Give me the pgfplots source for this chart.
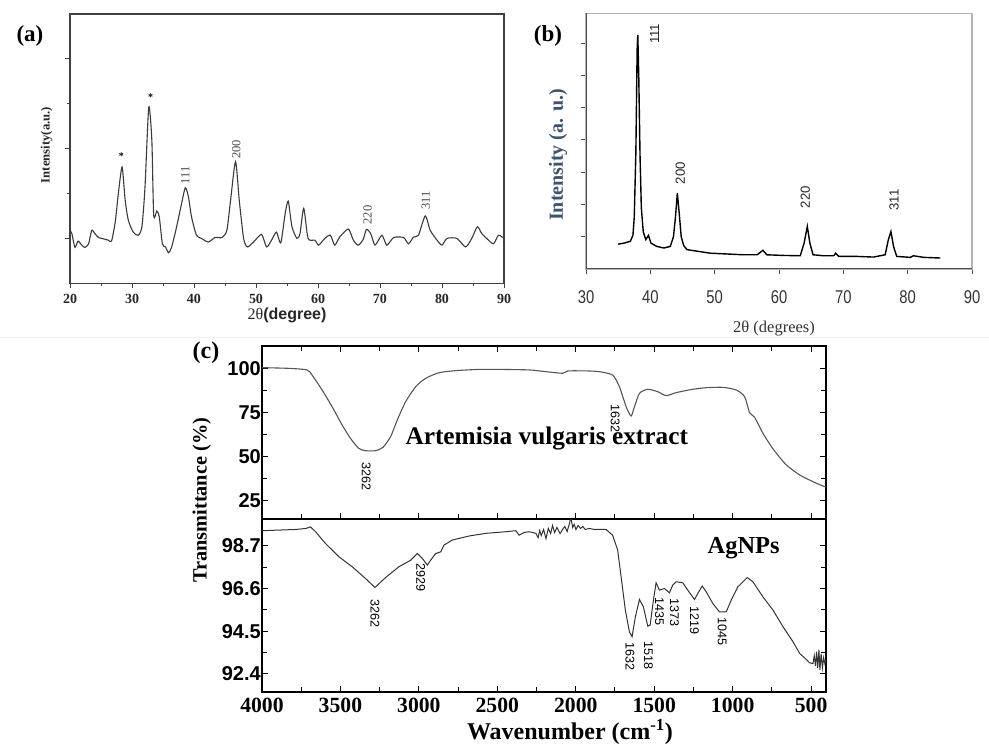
\documentclass[border=0pt]{standalone}
\usepackage{fontspec}
\setmainfont{Liberation Serif}
\newfontfamily\arial{Liberation Sans}
\usepackage{pgfplots}
\pgfplotsset{compat=1.18}
\definecolor{curveA}{HTML}{3A3A3A}
\definecolor{curveC}{HTML}{555555}
\definecolor{labB}{HTML}{3C5470}
\newcommand{\fs}[1]{\fontsize{#1}{#1}\selectfont}

\begin{document}
\begin{tikzpicture}
\path[use as bounding box] (0,0) rectangle (989pt,-744pt);
\draw[gray!12, line width=1pt] (0pt,-337.5pt) -- (989pt,-337.5pt);

% ---------------- (a) XRD ----------------
\begin{axis}[
    at={(70pt,-14pt)}, anchor=north west,
    scale only axis, width=434pt, height=269.3pt,
    xmin=20, xmax=90, ymin=0, ymax=6,
    xtick={20,30,...,90}, minor x tick num=1,
    ytick={1,3,5}, minor ytick={2,4}, yticklabel=\empty,
    tick pos=left, tick align=outside,
    major tick length=5pt, minor tick length=3pt,
    axis line style={draw=black!75, line width=1.2pt},
    tick style={draw=black!75, line width=1pt},
    /pgf/number format/assume math mode=true,
    xticklabel style={font=\bfseries\fs{14}, text=black!85, yshift=-2pt},
    xlabel={2θ{\arial\bfseries(degree)}},
    xlabel style={font=\fs{16}, text=black!85, at={(axis description cs:0.5,-0.121)}, anchor=center},
    ylabel={Intensity(a.u.)},
    ylabel style={font=\bfseries\fs{12.7}, text=black!85, at={(axis description cs:-0.0537,0.5135)}, anchor=center},
]
\addplot[curveA, line width=1.1pt, smooth, tension=0.4] coordinates {
(20,1.18)(20.3,1.11)(20.8,0.80)(21.3,0.94)(21.9,0.85)(22.4,0.80)(23.0,0.88)(23.5,1.18)
(24.0,1.11)(24.6,1.02)(25.4,0.99)(26.2,0.96)(26.7,0.94)(27.3,1.37)(27.8,2.0)(28.4,2.59)
(28.9,1.85)(29.4,1.41)(30.2,1.14)(31.0,1.07)(31.6,1.26)(32.1,2.15)(32.7,3.92)(33.2,3.19)
(33.5,1.52)(34.0,1.61)(34.4,1.48)(34.9,0.88)(35.4,0.81)(35.9,0.68)(36.4,0.81)(37.2,1.26)
(38.0,1.78)(38.6,2.13)(39.1,1.93)(39.6,1.48)(40.4,1.07)(41.2,1.0)(42.3,0.92)(43.4,1.02)
(44.5,1.02)(45.3,1.18)(45.9,1.85)(46.7,2.71)(47.3,1.85)(48.0,1.0)(48.6,0.81)(49.6,0.92)
(50.9,1.09)(51.7,0.81)(52.5,0.96)(53.3,1.14)(54.0,0.90)(54.7,1.55)(55.2,1.83)(55.8,1.26)
(56.6,1.0)(57.1,1.11)(57.7,1.67)(58.4,1.0)(59.5,0.96)(60.1,0.85)(61.1,1.0)(62.0,1.07)
(62.7,0.85)(63.5,1.03)(64.9,1.21)(65.7,0.96)(66.5,0.85)(67.3,0.98)(67.8,1.20)(68.5,1.11)
(69.2,0.85)(70.3,1.07)(71.1,0.85)(72.2,1.02)(73.8,1.02)(74.6,0.88)(75.4,1.03)(76.2,1.07)
(77.3,1.50)(78.1,1.18)(79.2,0.96)(80.0,0.85)(80.8,1.0)(82.4,1.0)(83.8,0.81)(84.8,1.0)
(85.7,1.26)(86.4,1.11)(87.2,1.0)(88.3,0.88)(89.1,1.07)(90,1.0)};
\node[font=\bfseries\fs{10}] at (axis cs:28.3,2.83) {*};
\node[font=\bfseries\fs{10}] at (axis cs:33.0,4.14) {*};
\node[font=\fs{12.5}, text=black!70, rotate=90] at (axis cs:38.6,2.41) {111};
\node[font=\fs{12.5}, text=black!70, rotate=90] at (axis cs:46.8,2.98) {200};
\node[font=\fs{12.5}, text=black!70, rotate=90] at (axis cs:68.0,1.52) {220};
\node[font=\fs{12.5}, text=black!70, rotate=90] at (axis cs:77.4,1.85) {311};
\end{axis}

% ---------------- (b) XRD ----------------
\begin{axis}[
    at={(586pt,-13.3pt)}, anchor=north west,
    scale only axis, width=386pt, height=255.7pt,
    xmin=30, xmax=90, ymin=0, ymax=7.92,
    xtick={30,40,...,90}, ytick={1,...,7}, yticklabel=\empty,
    tick pos=left, tick align=outside,
    major tick length=5pt,
    axis line style={draw=gray!60, line width=1.4pt},
    tick style={draw=black!70, line width=1pt},
    /pgf/number format/assume math mode=true,
    xticklabel style={font=\arial\fs{18.5}, text=black!80, xscale=0.8, yshift=-13pt},
    xlabel={2θ (degrees)},
    xlabel style={font=\fs{16.5}, text=black!80, at={(axis description cs:0.487,-0.231)}, anchor=center},
    ylabel={Intensity (a. u.)},
    ylabel style={font=\bfseries\fs{20}, text=labB, at={(axis description cs:-0.0725,0.446)}, anchor=center},
]
\draw[black!70, line width=1.4pt] (rel axis cs:0,1) -- (rel axis cs:0,0) -- (rel axis cs:1,0);
\addplot[black, line width=1.4pt] coordinates {
(35.0,0.77)(35.9,0.80)(36.9,0.86)(37.3,1.05)(37.5,1.6)(37.75,3.6)(37.95,6.8)(38.05,7.25)
(38.2,6.0)(38.4,3.5)(38.6,1.9)(38.9,1.15)(39.3,0.91)(39.7,1.04)(40.1,0.80)(41.0,0.70)
(42.1,0.65)(43.1,0.70)(43.6,1.0)(43.9,1.6)(44.2,2.35)(44.5,1.7)(44.8,1.0)(45.2,0.72)
(45.7,0.60)(47.3,0.55)(49.3,0.49)(51.4,0.47)(54.5,0.44)(56.6,0.44)(57.5,0.58)(58.1,0.44)
(60.7,0.42)(63.3,0.41)(63.9,0.80)(64.4,1.32)(64.8,0.80)(65.3,0.44)(66.9,0.41)(68.5,0.41)
(68.8,0.49)(69.3,0.39)(72.1,0.39)(74.7,0.37)(76.5,0.44)(77.0,0.91)(77.4,1.16)(77.8,0.70)
(78.3,0.39)(80.4,0.36)(80.9,0.41)(82.5,0.36)(85.1,0.34)};
\node[font=\arial\fs{13.2}, text=black!85, rotate=90] at (axis cs:40.67,7.28) {111};
\node[font=\arial\fs{13.2}, text=black!85, rotate=90] at (axis cs:44.66,2.97) {200};
\node[font=\arial\fs{13.2}, text=black!85, rotate=90] at (axis cs:64.1,2.23) {220};
\node[font=\arial\fs{13.2}, text=black!85, rotate=90] at (axis cs:77.9,2.14) {311};
\end{axis}

% ---------------- (c) FTIR, extract ----------------
\begin{axis}[
    at={(262pt,-346pt)}, anchor=north west,
    scale only axis, width=564pt, height=173.3pt,
    x dir=reverse, xmin=405, xmax=4000, ymin=14.2, ymax=112.7,
    xtick={500,1000,...,4000}, minor x tick num=1, xticklabel=\empty,
    ytick={25,50,75,100}, minor y tick num=1,
    tick pos=both, tick align=inside,
    major tick length=6pt, minor tick length=5pt,
    axis line style={line width=2pt},
    tick style={black, line width=1pt},
    /pgf/number format/assume math mode=true,
    yticklabel style={font=\arial\bfseries\fs{20}, inner sep=1pt},
    ylabel={Transmittance (\%)},
    ylabel style={font=\bfseries\fs{20.3}, at={(axis description cs:-0.107,0.11)}, anchor=center},
]
\addplot[curveC, line width=1.1pt, smooth, tension=0.4] coordinates {
(4006,100.4)(3829,100)(3713,99.1)(3681,96.2)(3617,87.7)(3553,78.2)(3489,67.8)(3436,60.2)
(3383,54.5)(3340,53.2)(3276,53.2)(3229,55.1)(3180,61.2)(3138,70.6)(3084,81.1)(3020,89.6)
(2957,94.3)(2872,97.5)(2765,98.7)(2616,99.4)(2488,99.4)(2297,99.1)(2190,98.1)(2084,97.2)
(2052,98.5)(1978,98.6)(1914,98.5)(1850,98.1)(1765,96.2)(1722,89.6)(1679,78.2)(1647,72.9)
(1626,78.2)(1594,85.8)(1541,88.1)(1477,86.7)(1424,84.5)(1360,86.2)(1254,88.1)(1169,89.0)
(1062,89.2)(977,87.7)(924,83.9)(892,74.8)(860,72.2)(807,63.1)(753,55.5)(721,51.7)
(658,45.1)(573,39.4)(488,35.6)(424,33.1)(405,32.6)};
\node[font=\arial\fs{12.6}, rotate=-90] at (axis cs:3336,38.4) {3262};
\node[font=\arial\fs{12.6}, rotate=-90] at (axis cs:1748,71.6) {1632};
\node[font=\bfseries\fs{25.3}] at (axis cs:2185,60.4) {Artemisia vulgaris extract};
\end{axis}

% ---------------- (c) FTIR, AgNPs ----------------
\begin{axis}[
    at={(262pt,-519.3pt)}, anchor=north west,
    scale only axis, width=564pt, height=173pt,
    x dir=reverse, xmin=405, xmax=4000, ymin=91.5, ymax=100.0,
    xtick={500,1000,...,4000}, minor x tick num=1,
    ytick={92.4,94.5,96.6,98.7}, yticklabels={92.4,94.5,96.6,98.7}, minor y tick num=1,
    xtick pos=left, ytick pos=both, tick align=inside,
    major tick length=6pt, minor tick length=5pt,
    axis line style={line width=2pt},
    tick style={black, line width=1pt},
    scaled x ticks=false,
    /pgf/number format/1000 sep={},
    /pgf/number format/assume math mode=true,
    xticklabel style={font=\bfseries\fs{21.7}, yshift=-2pt},
    yticklabel style={font=\arial\bfseries\fs{20}, inner sep=1pt},
    xlabel={Wavenumber (cm\textsuperscript{-1})},
    xlabel style={font=\bfseries\fs{24}, inner sep=0pt, at={(axis description cs:0.546,-0.232)}, anchor=center},
]
\addplot[black!80, line width=1pt] coordinates {
(4000,99.44)(3893,99.47)(3787,99.50)(3720,99.55)(3691,99.63)(3659,99.39)(3595,98.81)(3510,98.16)
(3425,97.67)(3340,97.09)(3280,96.65)(3212,97.14)(3127,97.67)(3052,97.99)(3010,98.32)(2978,98.08)
(2946,97.75)(2925,97.99)(2893,98.32)(2861,98.40)(2840,98.73)(2787,98.98)(2680,99.18)(2573,99.31)
(2446,99.39)(2382,99.44)(2361,99.22)(2330,99.35)(2297,99.39)(2254,99.31)(2240,99.1)(2230,99.45)
(2220,99.2)(2205,99.5)(2190,99.05)(2175,99.55)(2160,99.3)(2148,99.7)(2135,99.35)(2120,99.6)
(2100,99.3)(2084,99.5)(2070,99.65)(2055,99.4)(2040,99.8)(2031,100.1)(2020,99.6)(2010,99.75)
(1999,99.5)(1985,99.7)(1970,99.55)(1955,99.65)(1940,99.5)(1914,99.55)(1880,99.5)(1807,99.50)
(1765,99.22)(1733,98.49)(1711,97.18)(1684,95.54)(1658,94.47)(1641,94.23)(1620,95.21)(1594,96.06)
(1569,95.70)(1541,94.75)(1526,94.80)(1505,96.03)(1488,96.88)(1467,96.52)(1435,96.60)(1403,96.39)
(1382,96.77)(1360,96.93)(1318,96.88)(1286,96.52)(1243,96.06)(1222,96.36)(1194,96.72)(1169,96.44)
(1126,95.86)(1084,95.45)(1041,95.45)(1009,96.03)(967,96.68)(907,97.14)(871,96.93)(807,96.19)
(743,95.54)(679,94.72)(615,93.98)(573,93.41)(530,93.11)(510,92.95)(488,92.91)(480,93.3)
(472,92.8)(465,93.5)(458,92.7)(450,93.6)(444,92.6)(436,93.4)(428,92.7)(420,93.2)
(412,92.9)(405,93.1)};
\node[font=\arial\fs{12.6}, rotate=-90] at (axis cs:3280,95.37) {3262};
\node[font=\arial\fs{12.6}, rotate=-90] at (axis cs:2989,97.14) {2929};
\node[font=\arial\fs{12.6}, rotate=-90] at (axis cs:1654,93.24) {1632};
\node[font=\arial\fs{12.6}, rotate=-90] at (axis cs:1537,93.32) {1518};
\node[font=\arial\fs{12.6}, rotate=-90] at (axis cs:1467,95.45) {1435};
\node[font=\arial\fs{12.6}, rotate=-90] at (axis cs:1371,95.40) {1373};
\node[font=\arial\fs{12.6}, rotate=-90] at (axis cs:1243,95.04) {1219};
\node[font=\arial\fs{12.6}, rotate=-90] at (axis cs:1066,94.47) {1045};
\node[font=\bfseries\fs{24.4}] at (axis cs:930,98.59) {AgNPs};
\end{axis}

\node[font=\bfseries\fs{23}] at (30pt,-36pt) {(a)};
\node[font=\bfseries\fs{23}] at (548pt,-36pt) {(b)};
\node[font=\bfseries\fs{24}] at (206pt,-353pt) {(c)};
\end{tikzpicture}
\end{document}
